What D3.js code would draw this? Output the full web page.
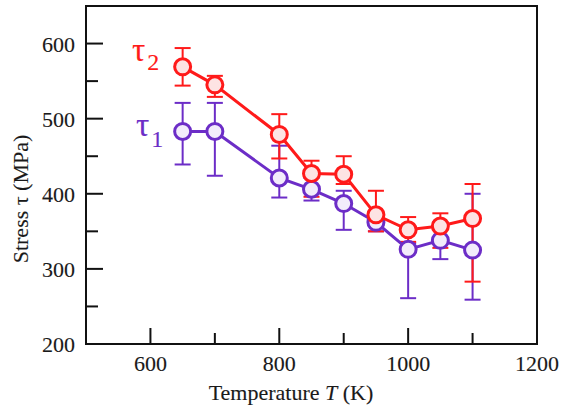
<!DOCTYPE html>
<html><head><meta charset="utf-8">
<script src="https://cdn.jsdelivr.net/npm/d3@7"></script>
<style>
html,body{margin:0;padding:0;background:#fff;}
</style></head>
<body>
<svg id="c" width="562" height="408"></svg>
<script>
const temps = [650,700,800,850,900,950,1000,1050,1100];
const tau2 = [569,545,479,427,426,372,352,357,367];
const tau2Hi = [594,557,506,444,450,404,369,374,413];
const tau2Lo = [544,529,447,396,413,350,336,328,283];
const tau1 = [483,483,421,406,387,362,326,338,325];
const tau1Hi = [521,521,464,421,404,375,334,362,400];
const tau1Lo = [439,424,395,391,352,350,261,313,259];
const xTicks = [600,800,1000,1200];
const xMinor = [700,900,1100];
const yTicks = [200,300,400,500,600];
const yMinor = [250,350,450,550];

const FONT = "'Liberation Serif', 'Times New Roman', Times, 'DejaVu Serif', serif";
const red = "#ff1a1a", redFill = "#fde3e3";
const pur = "#6c2dc7", purFill = "#f2ecfb";

const svg = d3.select("#c");
const L=86, R=537, T=6, B=344;
const x = d3.scaleLinear().domain([500,1200]).range([L,R]);
const y = d3.scaleLinear().domain([200,650]).range([B,T]);

function txt(col){ col = col||"#1a1a1a"; return svg.append("text").attr("font-family",FONT).style("font-family",FONT)
  .attr("fill",col).attr("stroke",col).attr("stroke-width",0.12); }

const g = svg.append("g");
xTicks.filter(v=>v<1200).forEach(v=>g.append("line").attr("x1",x(v)).attr("x2",x(v)).attr("y1",B).attr("y2",B-16).attr("stroke","#111").attr("stroke-width",2));
xMinor.forEach(v=>g.append("line").attr("x1",x(v)).attr("x2",x(v)).attr("y1",B).attr("y2",B-11).attr("stroke","#111").attr("stroke-width",2));
yTicks.filter(v=>v>200).forEach(v=>g.append("line").attr("x1",L).attr("x2",L+17).attr("y1",y(v)).attr("y2",y(v)).attr("stroke","#111").attr("stroke-width",2));
yMinor.forEach(v=>g.append("line").attr("x1",L).attr("x2",L+12).attr("y1",y(v)).attr("y2",y(v)).attr("stroke","#111").attr("stroke-width",2));

xTicks.forEach(v=>txt().attr("x",x(v)).attr("y",371).attr("text-anchor","middle").attr("font-size",22).text(v));
yTicks.forEach(v=>txt().attr("x",75).attr("y",y(v)+8).attr("text-anchor","end").attr("font-size",22).text(v));

svg.append("rect").attr("x",L).attr("y",T).attr("width",R-L).attr("height",B-T).attr("fill","none").attr("stroke","#111").attr("stroke-width",2);

const xt = txt().attr("x",291).attr("y",400).attr("text-anchor","middle").attr("font-size",22);
xt.append("tspan").text("Temperature ");
xt.append("tspan").attr("font-style","italic").text("T");
xt.append("tspan").text(" (K)");
txt().attr("transform","translate(28,199) rotate(-90)").attr("text-anchor","middle").attr("font-size",22).text("Stress τ (MPa)");

function errs(hi, lo, col){
  const eg = svg.append("g").attr("stroke",col).attr("stroke-width",2).attr("fill","none");
  temps.forEach((t,i)=>{
    eg.append("line").attr("x1",x(t)).attr("x2",x(t)).attr("y1",y(hi[i])).attr("y2",y(lo[i]));
    eg.append("line").attr("x1",x(t)-8).attr("x2",x(t)+8).attr("y1",y(hi[i])).attr("y2",y(hi[i]));
    eg.append("line").attr("x1",x(t)-8).attr("x2",x(t)+8).attr("y1",y(lo[i])).attr("y2",y(lo[i]));
  });
}
function line(vals,col){
  svg.append("path").datum(vals).attr("fill","none").attr("stroke",col).attr("stroke-width",3)
    .attr("d", d3.line().x((d,i)=>x(temps[i])).y(d=>y(d)));
}
function dots(vals,col,fill){
  svg.append("g").selectAll("circle").data(vals).join("circle")
    .attr("cx",(d,i)=>x(temps[i])).attr("cy",d=>y(d)).attr("r",8)
    .attr("fill",fill).attr("stroke",col).attr("stroke-width",3);
}
errs(tau1Hi,tau1Lo,pur);
errs(tau2Hi,tau2Lo,red);
line(tau1,pur);
dots(tau1,pur,purFill);
line(tau2,red);
dots(tau2,red,redFill);

const l2 = txt(red).attr("x",132).attr("y",61).attr("font-size",33);
l2.append("tspan").text("τ");
l2.append("tspan").attr("font-size",24).attr("dx",2).attr("dy",9).text("2");
const l1 = txt(pur).attr("x",136).attr("y",136).attr("font-size",33);
l1.append("tspan").text("τ");
l1.append("tspan").attr("font-size",24).attr("dx",2).attr("dy",11).text("1");
</script>
</body></html>
